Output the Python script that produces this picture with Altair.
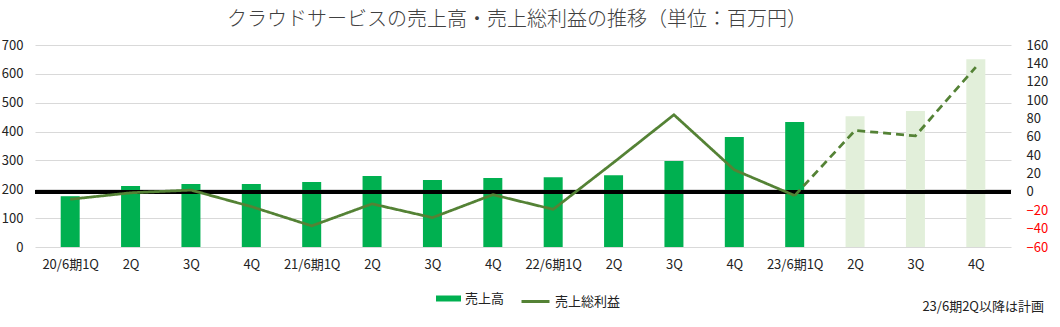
import json
import altair as alt
import pandas as pd

labels = ["20/6期1Q", "2Q", "3Q", "4Q", "21/6期1Q", "2Q", "3Q", "4Q",
          "22/6期1Q", "2Q", "3Q", "4Q", "23/6期1Q", "2Q", "3Q", "4Q"]
sales = [176, 211, 218, 218, 225, 246, 232, 239, 242, 249, 298, 381, 433, 453, 471, 651]
profit = [-8, -1, 2, -16, -37, -13, -28, -3, -19, 32, 84, 24, -4, 67, 61, 136]
plan_start = 13  # 23/6期2Q以降は計画

FONT = "Noto Sans CJK JP"
n = len(labels)
df = pd.DataFrame({
    "i": list(range(n)),
    "sales": sales,
    "profit": profit,
    "plan": [k >= plan_start for k in range(n)],
    "s1": ["売上高"] * n,
    "s2": ["売上総利益"] * n,
})
actual_df = df[df["i"] <= plan_start - 1].assign(seg="actual")
plan_df = df[df["i"] >= plan_start - 1].assign(seg="plan")
line_df = pd.concat([actual_df, plan_df], ignore_index=True)
note_df = pd.DataFrame({"note": ["23/6期2Q以降は計画"]})

label_arr = json.dumps(labels, ensure_ascii=False)
x_enc = alt.X(
    "i:Q",
    scale=alt.Scale(domain=[-0.5, n - 0.5], nice=False, zero=False),
    axis=alt.Axis(values=list(range(n)), labelExpr=f"{label_arr}[datum.value]",
                  title=None, grid=False, ticks=False, domain=False,
                  labelFontSize=13, labelPadding=11, labelColor="#222222", labelAngle=0,
                  labelOverlap=False, labelFlush=False),
)
p_scale = alt.Scale(domain=[-60, 160], nice=False)
right_axis = alt.Axis(orient="right", values=list(range(-60, 161, 20)), title=None,
                      grid=False, ticks=False, domain=False, labelFontSize=13,
                      labelPadding=15, labelOverlap=False, labelFlush=False,
                      labelColor={"condition": {"test": "datum.value < 0", "value": "#FF0000"},
                                  "value": "#222222"})

bars = alt.Chart(df).mark_bar(size=19).encode(
    x=x_enc,
    y=alt.Y("sales:Q", scale=alt.Scale(domain=[0, 700], nice=False),
            axis=alt.Axis(values=list(range(0, 701, 100)), title=None, grid=True,
                          gridColor="#d9d9d9", gridWidth=1, ticks=False, domain=False,
                          labelFontSize=13, labelPadding=12, labelColor="#222222",
                          labelOverlap=False, labelFlush=False)),
    fill=alt.condition(
        "datum.plan",
        alt.value("#E2EFDA"),
        alt.Fill("s1:N", scale=alt.Scale(domain=["売上高"], range=["#00B050"]),
                 legend=alt.Legend(title=None, orient="none", legendX=401, legendY=241,
                                   symbolType="M-1,-0.24H1V0.24H-1Z", symbolSize=625,
                                   symbolStrokeWidth=0, labelFontSize=13, padding=0,
                                   labelColor="#222222")),
    ),
)

zero_rule = alt.Chart(df).mark_rule(color="black", strokeWidth=3).encode(
    y=alt.Y(datum=0, scale=p_scale, axis=right_axis)
)

profit_line = alt.Chart(line_df).mark_line(strokeWidth=2.75).encode(
    x=x_enc,
    y=alt.Y("profit:Q", scale=p_scale, axis=right_axis),
    stroke=alt.Stroke("s2:N", scale=alt.Scale(domain=["売上総利益"], range=["#548235"]),
                      legend=alt.Legend(title=None, orient="none", legendX=485, legendY=241,
                                        symbolType="stroke", symbolSize=784,
                                        symbolStrokeWidth=3, labelFontSize=13, padding=0,
                                        labelColor="#222222")),
    strokeDash=alt.StrokeDash("seg:N", scale=alt.Scale(domain=["actual", "plan"],
                                                       range=[[1, 0], [8, 5]]), legend=None),
    detail="seg:N",
)

note = alt.Chart(note_df).mark_text(align="right", baseline="middle", fontSize=13,
                                    color="#222222", font=FONT).encode(
    x=alt.value(1009), y=alt.value(262), text="note:N"
)

right_layer = alt.layer(zero_rule, profit_line, note)

chart = alt.layer(bars, right_layer).resolve_scale(
    y="independent", fill="independent", stroke="independent"
).properties(
    width=976, height=202,
    padding={"left": 35, "top": 45, "right": 49, "bottom": 80},
    autosize=alt.AutoSizeParams(type="none"),
    title=alt.TitleParams("クラウドサービスの売上高・売上総利益の推移（単位：百万円）",
                          fontSize=20, fontWeight=300, color="#404040",
                          anchor="middle", offset=9, dx=-6, font=FONT),
).configure(font=FONT).configure_view(stroke=None).configure_axis(labelOverlap=False)

chart.save("out.html", embed_options={"renderer": "svg", "actions": False})
